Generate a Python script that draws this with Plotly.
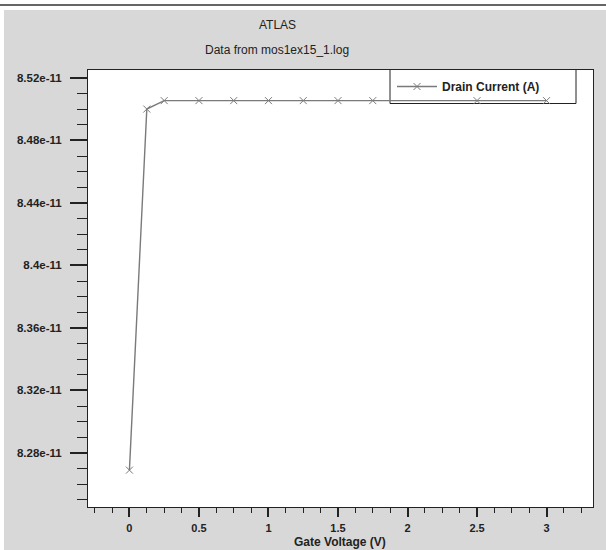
import plotly.graph_objects as go

# ---- data ----
gate_voltage = [0.0, 0.125, 0.25, 0.5, 0.75, 1.0, 1.25, 1.5, 1.75, 2.5, 3.0]
drain_current = [8.269e-11, 8.5001e-11, 8.5055e-11, 8.5055e-11, 8.5055e-11, 8.5055e-11,
                 8.5055e-11, 8.5055e-11, 8.5055e-11, 8.5055e-11, 8.5055e-11]
y_tick_vals = [8.28e-11, 8.32e-11, 8.36e-11, 8.40e-11, 8.44e-11, 8.48e-11, 8.52e-11]
y_tick_text = ["8.28e-11", "8.32e-11", "8.36e-11", "8.4e-11", "8.44e-11", "8.48e-11", "8.52e-11"]
x_tick_vals = [0, 0.5, 1, 1.5, 2, 2.5, 3]
x_tick_text = ["0", "0.5", "1", "1.5", "2", "2.5", "3"]

W, H = 606, 550
L, R, T, B = 88, 593, 70, 507
pw, ph = R - L, B - T

def px(x):
    return (x - L) / pw

def py(y):
    return (B - y) / ph

FONT = "Liberation Sans, Arial, sans-serif"
GRAY_BG = "#d8d8d8"

fig = go.Figure()
fig.add_trace(go.Scatter(
    x=gate_voltage, y=drain_current, mode="lines+markers",
    name="Drain Current (A)",
    line=dict(color="#7a7a7a", width=1.4),
    marker=dict(symbol="x-thin-open", size=7, line=dict(color="#6a6a6a", width=1)),
))

fig.update_layout(
    width=W, height=H,
    margin=dict(l=L, r=W - R, t=T, b=H - B, pad=0),
    paper_bgcolor=GRAY_BG, plot_bgcolor="white",
    font=dict(family=FONT, color="#222"),
    showlegend=True,
    legend=dict(
        x=px(392), y=py(86.5), xanchor="left", yanchor="middle",
        bgcolor="rgba(0,0,0,0)", borderwidth=0,
        font=dict(family=FONT, size=12, color="#222", weight="bold"),
        itemwidth=40,
    ),
    xaxis=dict(
        range=[-0.298, 3.334], showgrid=False, zeroline=False,
        showline=True, linecolor="#222", linewidth=1, mirror=True,
        tickmode="array", tickvals=x_tick_vals, ticktext=x_tick_text,
        ticks="outside", ticklen=9, tickwidth=2, tickcolor="#222",
        tickfont=dict(family=FONT, size=11, color="#222", weight="bold"),
        ticklabelstandoff=2,
        minor=dict(ticks="outside", tick0=0, dtick=0.125, ticklen=5, tickwidth=1, tickcolor="#222", showgrid=False),
    ),
    yaxis=dict(
        range=[8.2454e-11, 8.5251e-11], showgrid=False, zeroline=False,
        showline=True, linecolor="#222", linewidth=1, mirror=True,
        tickmode="array", tickvals=y_tick_vals, ticktext=y_tick_text,
        ticks="outside", ticklen=17, tickwidth=2, tickcolor="#222",
        tickfont=dict(family=FONT, size=11.5, color="#222", weight="bold"),
        ticklabelstandoff=6,
        minor=dict(ticks="outside", tick0=8.28e-11, dtick=1e-13, ticklen=10, tickwidth=1, tickcolor="#222", showgrid=False),
    ),
)

# legend frame (drawn beneath the trace, as in the reference)
fig.add_shape(type="rect", xref="paper", yref="paper", x0=px(390), x1=px(576), y0=py(103.5), y1=py(69.5),
              fillcolor="rgba(0,0,0,0)", line=dict(color="#222", width=1), layer="below")

# white strip at the top with a dark rule, and thin white strip on the left
fig.add_shape(type="rect", xref="paper", yref="paper", x0=px(0), x1=px(W), y0=py(10), y1=py(0),
              fillcolor="white", line=dict(width=0), layer="above")
fig.add_shape(type="rect", xref="paper", yref="paper", x0=px(0), x1=px(4), y0=py(H), y1=py(0),
              fillcolor="white", line=dict(width=0), layer="above")
fig.add_shape(type="line", xref="paper", yref="paper", x0=px(0), x1=px(W), y0=py(5), y1=py(5),
              line=dict(color="#333", width=1.5), layer="above")

# titles
fig.add_annotation(text="ATLAS", xref="paper", yref="paper", x=px(277), y=py(25),
                   showarrow=False, xanchor="center", yanchor="middle",
                   font=dict(family=FONT, size=12, color="#222"))
fig.add_annotation(text="Data from mos1ex15_1.log", xref="paper", yref="paper", x=px(277), y=py(50),
                   showarrow=False, xanchor="center", yanchor="middle",
                   font=dict(family=FONT, size=12, color="#222"))
fig.add_annotation(text="Gate Voltage (V)", xref="paper", yref="paper", x=px(340), y=py(542),
                   showarrow=False, xanchor="center", yanchor="middle",
                   font=dict(family=FONT, size=12, color="#222", weight="bold"))

fig.write_html("out.html")
